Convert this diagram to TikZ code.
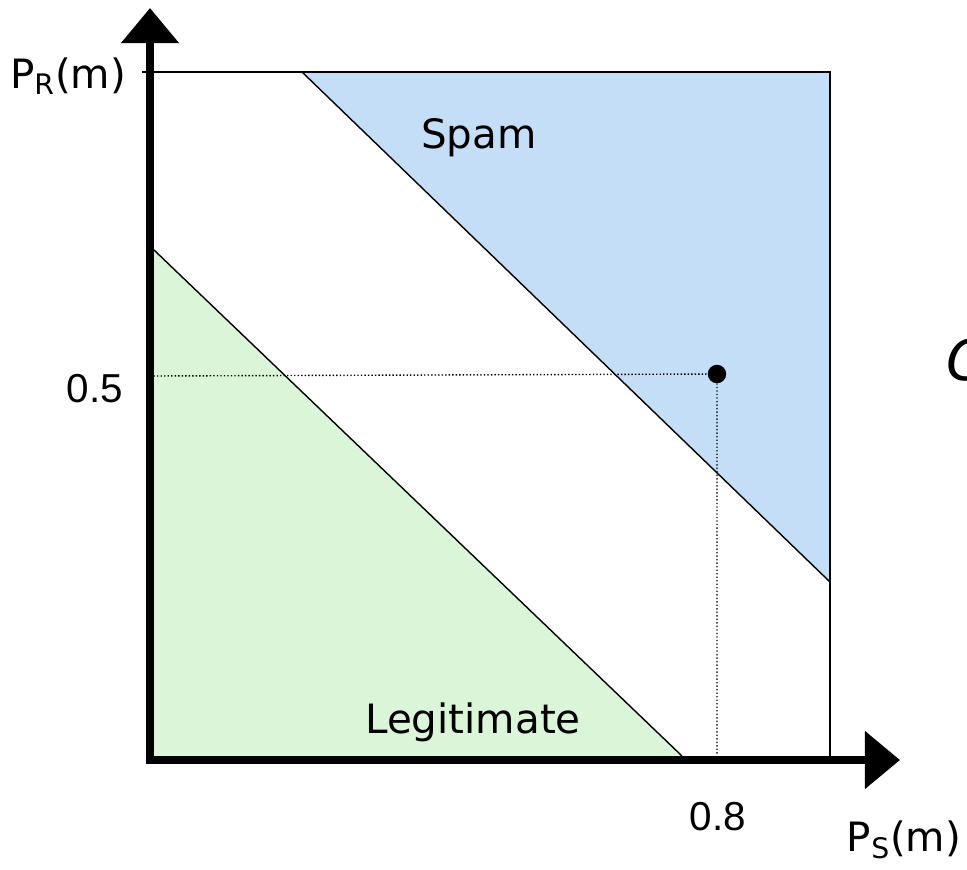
\documentclass[tikz,border=0pt]{standalone}
\usepackage{fontspec}
\setmainfont{Liberation Sans}
\newfontfamily\handfont{DejaVu Sans}
\usetikzlibrary{arrows.meta}
\definecolor{spamblue}{RGB}{196,222,248}
\definecolor{legitgreen}{RGB}{218,245,216}
\tikzset{
  axis/.style={line width=4.5pt,-{Triangle[length=20pt,width=32pt]}},
  border/.style={line width=0.8pt},
  guide/.style={line width=0.8pt,dash pattern=on 0.8pt off 1.2pt},
  dot/.style={circle,fill,inner sep=0pt,minimum size=10.5pt},
  lbl/.style={font=\handfont\fontsize{23}{27}\selectfont},
  num/.style={font=\fontsize{23}{27}\selectfont}
}
\begin{document}
\begin{tikzpicture}[x=0.02cm,y=-0.02cm]
    \useasboundingbox (0,0) rectangle (967,869);
    \clip (0,0) rectangle (967,869);
    % Regions
    \fill[spamblue] (302,72) -- (830,72) -- (830,582) -- cycle;
    \fill[legitgreen] (154,250) -- (682,756) -- (154,756) -- cycle;
    \draw[border] (302,72) -- (830,582);
    \draw[border] (154,250) -- (682,756);
    % Frame
    \draw[border] (142,72) -- (830,72) -- (830,760);
    % Point (0.8, 0.5)
    \coordinate (yref) at (150,376);
    \coordinate (xref) at (717,760);
    \node[dot] (pt) at (717,374) {};
    \draw[guide] (yref) -- (pt.center) -- (xref);
    % Axes
    \draw[axis] (150,764) -- (150,8);
    \draw[axis] (146,760) -- (900,760);
    % Labels
    \node[lbl] (spam) at (479,138) {Spam};
    \node[lbl] (legit) at (473,722) {Legitimate};
    \node[lbl] (pr) at (68,76) {P\textsubscript{R}(m)};
    \node[lbl] (ps) at (904,840) {P\textsubscript{S}(m)};
    \node[num] (half) at (95,389) {0.5};
    \node[num] (eight) at (718,817) {0.8};
    \node[lbl,font=\handfont\itshape\fontsize{32}{36}\selectfont,anchor=west,inner sep=0pt] (cut) at (946,360) {C};
\end{tikzpicture}
\end{document}
